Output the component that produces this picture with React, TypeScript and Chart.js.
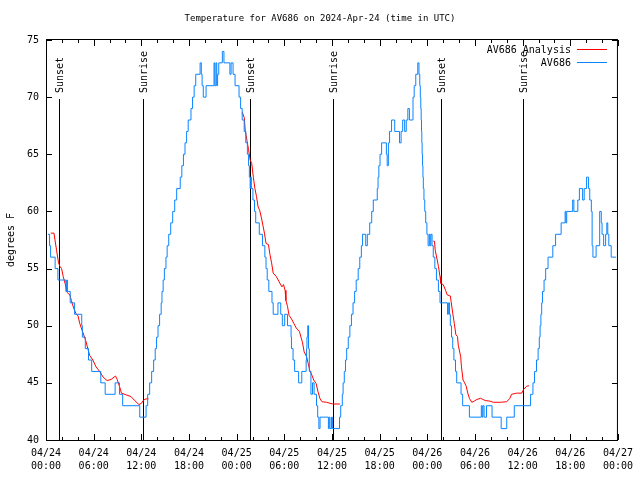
import React, { useEffect, useRef } from 'react';
import { Chart, registerables } from 'chart.js';

Chart.register(...registerables);

const FONT = "'DejaVu Sans Mono', 'Liberation Mono', monospace";

const chartTitle = 'Temperature for AV686 on 2024-Apr-24 (time in UTC)';
const yAxisTitle = 'degrees F';
const analysisName = 'AV686 Analysis';
const obsName = 'AV686';
const analysisColor = '#ff0000';
const obsColor = '#0a84ff';

// x axis: hours since 2024-04-24 00:00 UTC
const xTickHours = [0, 6, 12, 18, 24, 30, 36, 42, 48, 54, 60, 66, 72];
const xTickDates = ['04/24', '04/24', '04/24', '04/24', '04/25', '04/25', '04/25', '04/25', '04/26', '04/26', '04/26', '04/26', '04/27'];
const xTickTimes = ['00:00', '06:00', '12:00', '18:00', '00:00', '06:00', '12:00', '18:00', '00:00', '06:00', '12:00', '18:00', '00:00'];
const xMinorStep = 2;
const yTicks = [40, 45, 50, 55, 60, 65, 70, 75];

const sunEventHours = [1.67, 12.15, 25.68, 36.13, 49.69, 60.08];
const sunEventNames = ['Sunset', 'Sunrise', 'Sunset', 'Sunrise', 'Sunset', 'Sunrise'];

// Observed temperature (value holds until next change)
const obsHours = [
  0.25, 0.45, 0.58, 1.15, 1.5, 2.5, 2.6, 2.7, 3.05, 3.6, 4.5, 4.58, 4.95, 5.35, 5.75, 6.9, 7.45, 8.7, 9.25, 9.65,
  11.8, 12.6, 12.8, 13.05, 13.3, 13.55, 13.75, 13.92, 14.1, 14.3, 14.5, 14.6, 14.75, 14.9, 15.1, 15.25, 15.45, 15.7, 15.95, 16.2,
  16.45, 16.9, 17.1, 17.3, 17.5, 17.7, 17.9, 18.25, 18.45, 18.65, 18.85, 19.4, 19.55, 19.65, 19.8, 20.15, 21.15, 21.25, 21.4, 21.5,
  21.6, 21.75, 22.2, 22.4, 23.15, 23.3, 23.55, 23.8, 24.3, 24.5, 24.7, 24.95, 25.15, 25.35, 25.5, 25.6, 25.7, 25.75, 25.85, 26.05,
  26.25, 26.4, 26.85, 27.25, 27.55, 27.7, 27.85, 28.05, 28.45, 28.6, 29.2, 29.55, 29.75, 30.05, 30.4, 30.85, 30.9, 31.1, 31.3, 31.8,
  32.2, 32.75, 32.8, 32.85, 32.95, 33.05, 33.15, 33.35, 33.55, 33.75, 34.05, 34.2, 34.35, 34.5, 35.55, 35.65, 35.75, 35.95, 36.05, 36.95,
  37.1, 37.3, 37.4, 37.55, 37.7, 37.85, 38.05, 38.25, 38.45, 38.65, 38.85, 39.05, 39.3, 39.5, 39.7, 39.85, 40.25, 40.45, 40.75, 41.0,
  41.2, 41.7, 41.8, 41.9, 42.05, 42.25, 42.85, 42.95, 43.1, 43.25, 43.5, 43.9, 44.5, 44.7, 44.9, 45.15, 45.35, 45.55, 45.75, 46.2,
  46.35, 46.55, 46.8, 46.95, 47.05, 47.12, 47.18, 47.23, 47.27, 47.31, 47.35, 47.4, 47.45, 47.5, 47.58, 47.68, 47.8, 47.95, 48.1, 48.25,
  48.35, 48.45, 48.6, 48.75, 48.95, 49.15, 49.4, 49.6, 50.55, 50.65, 50.8, 50.9, 51.05, 51.2, 51.35, 51.55, 51.7, 52.25, 52.45, 53.3,
  54.8, 54.9, 55.0, 55.15, 55.45, 56.15, 57.3, 58.0, 58.95, 61.0, 61.3, 61.5, 61.75, 61.95, 62.1, 62.2, 62.3, 62.4, 62.5, 62.7,
  62.9, 63.2, 63.8, 64.15, 64.85, 65.35, 65.45, 65.55, 66.3, 66.45, 66.95, 67.15, 67.55, 67.75, 68.05, 68.3, 68.45, 68.65, 68.75, 68.85,
  69.25, 69.7, 69.9, 70.0, 70.2, 70.45, 70.6, 70.72, 70.85, 71.15, 71.75,
];
const obsTemps = [
  58, 57, 56, 55, 54, 53, 54, 53, 52, 51, 50, 49, 48, 47, 46, 45, 44, 45, 44, 43,
  42, 43, 44, 45, 46, 47, 48, 49, 50, 51, 52, 53, 54, 55, 56, 57, 58, 59, 60, 61,
  62, 63, 64, 65, 66, 67, 68, 69, 70, 71, 72, 73, 72, 71, 70, 71, 73, 71, 73, 71,
  72, 73, 74, 73, 72, 73, 72, 71, 70, 69, 68, 67, 66, 65, 64, 63, 62, 63, 62, 61,
  60, 59, 58, 57, 56, 55, 54, 53, 52, 51, 52, 51, 50, 51, 50, 49, 48, 47, 46, 45,
  46, 47, 48, 49, 50, 48, 46, 44, 45, 44, 43, 42, 41, 42, 41, 42, 41, 42, 41, 42,
  43, 44, 45, 46, 47, 48, 49, 50, 51, 52, 53, 54, 55, 56, 57, 58, 57, 58, 59, 60,
  61, 62, 63, 64, 65, 66, 65, 64, 66, 67, 68, 67, 66, 67, 68, 67, 68, 69, 68, 70,
  71, 72, 73, 72, 71, 70, 69, 68, 67, 66, 65, 64, 63, 62, 61, 60, 59, 58, 57, 58,
  57, 58, 57, 56, 55, 54, 53, 52, 51, 52, 51, 50, 49, 48, 47, 46, 45, 44, 43, 42,
  43, 42, 43, 42, 43, 42, 41, 42, 43, 44, 45, 46, 47, 48, 49, 50, 51, 52, 53, 54,
  55, 56, 57, 58, 59, 60, 59, 60, 61, 60, 61, 62, 61, 62, 63, 62, 61, 60, 57, 56,
  57, 60, 59, 58, 57, 58, 59, 58, 57, 56, 56,
];

// Analysis temperature, one run per night
const analysisHours1 = [0.6, 1.0, 1.33, 1.58, 1.75, 1.96, 2.17, 2.4, 2.67, 3.0, 3.2, 3.5, 3.75, 4.04, 4.25, 4.54, 4.8, 5.0, 5.3, 5.5, 5.9, 6.3, 6.75, 7.2, 7.7, 8.2, 8.75, 8.96, 9.25, 9.5, 10.1, 10.7, 11.1, 11.7, 12.0, 12.3, 12.6, 12.9];
const analysisTemps1 = [58.1, 58.1, 56.6, 55.5, 55.2, 55.0, 54.3, 53.7, 52.9, 52.7, 52.2, 51.5, 51.1, 50.85, 50.2, 49.6, 49.1, 48.7, 47.9, 47.4, 47.0, 46.4, 46.0, 45.5, 45.2, 45.3, 45.6, 45.3, 44.7, 44.1, 43.95, 43.8, 43.5, 43.1, 43.2, 43.5, 43.6, 43.6];
const analysisHours2 = [24.7, 24.96, 25.08, 25.3, 25.5, 25.7, 25.9, 26.1, 26.3, 26.5, 26.7, 26.9, 27.1, 27.3, 27.5, 27.7, 28.0, 28.2, 28.4, 28.6, 29.0, 29.3, 29.7, 29.9, 30.1, 30.2, 30.4, 30.6, 30.9, 31.2, 31.5, 31.9, 32.1, 32.3, 32.5, 32.8, 33.0, 33.2, 33.4, 33.7, 34.0, 34.25, 34.5, 34.75, 35.3, 36.1, 37.0];
const analysisTemps2 = [68.7, 68.2, 67.1, 66.2, 65.4, 64.5, 64.2, 63.0, 62.0, 61.3, 60.4, 60.1, 59.5, 58.8, 58.1, 57.2, 57.1, 56.2, 55.5, 54.6, 54.3, 53.9, 53.4, 53.6, 53.1, 52.2, 51.7, 50.9, 50.6, 50.2, 49.8, 49.5, 49.0, 48.5, 47.7, 47.3, 46.7, 46.1, 45.8, 45.25, 44.95, 44.2, 43.6, 43.35, 43.3, 43.15, 43.15];
const analysisHours3 = [48.75, 48.9, 49.0, 49.25, 49.4, 49.6, 49.7, 50.0, 50.3, 50.5, 50.9, 51.0, 51.2, 51.4, 51.6, 51.8, 51.9, 52.2, 52.3, 52.5, 52.7, 52.9, 53.1, 53.3, 53.6, 53.9, 54.25, 54.7, 55.0, 55.3, 55.9, 56.3, 57.2, 58.0, 58.4, 58.6, 59.25, 59.9, 60.1, 60.5, 60.8];
const analysisTemps3 = [57.4, 57.4, 56.6, 55.75, 55.2, 54.3, 53.7, 53.6, 53.1, 52.7, 52.6, 52.1, 51.1, 50.2, 49.2, 49.05, 48.3, 47.3, 46.4, 45.25, 45.0, 44.7, 44.1, 43.65, 43.3, 43.4, 43.55, 43.65, 43.55, 43.45, 43.4, 43.3, 43.3, 43.35, 43.65, 44.0, 44.1, 44.1, 44.4, 44.7, 44.75];

function buildAnalysis() {
  const runs = [
    [analysisHours1, analysisTemps1],
    [analysisHours2, analysisTemps2],
    [analysisHours3, analysisTemps3],
  ];
  const pts: { x: number; y: number | null }[] = [];
  runs.forEach(([hs, ts], r) => {
    if (r > 0) pts.push({ x: hs[0] - 0.01, y: null });
    hs.forEach((h, i) => pts.push({ x: h, y: ts[i] }));
  });
  return pts;
}

const decorPlugin = {
  id: 'gnuplotDecor',
  beforeDatasetsDraw(chart: any) {
    const { ctx, chartArea } = chart;
    const xs = chart.scales.x;
    ctx.save();
    ctx.strokeStyle = '#000';
    ctx.lineWidth = 1;
    ctx.fillStyle = '#000';
    ctx.font = `10px ${FONT}`;
    sunEventHours.forEach((h, i) => {
      const px = Math.round(xs.getPixelForValue(h)) + 0.5;
      ctx.beginPath();
      ctx.moveTo(px, chartArea.top + 59);
      ctx.lineTo(px, chartArea.bottom);
      ctx.stroke();
      ctx.save();
      ctx.translate(px + 1, chartArea.top + 53);
      ctx.rotate(-Math.PI / 2);
      ctx.textAlign = 'left';
      ctx.textBaseline = 'middle';
      ctx.fillText(sunEventNames[i], 0, 0);
      ctx.restore();
    });
    ctx.restore();
  },
  afterDatasetsDraw(chart: any) {
    const { ctx, chartArea } = chart;
    const xs = chart.scales.x;
    const ys = chart.scales.y;
    const { left, right, top, bottom } = chartArea;
    ctx.save();
    ctx.strokeStyle = '#000';
    ctx.lineWidth = 1;
    // frame
    ctx.strokeRect(left + 0.5, top - 0.5, right - 1 - left, bottom + 1 - top);
    // x ticks (inward, mirrored)
    ctx.beginPath();
    for (let h = xs.min; h <= xs.max; h += xMinorStep) {
      const px = Math.round(xs.getPixelForValue(h)) + 0.5;
      const len = xTickHours.includes(h) ? 6 : 3;
      ctx.moveTo(px, bottom);
      ctx.lineTo(px, bottom - len);
      ctx.moveTo(px, top);
      ctx.lineTo(px, top + len);
    }
    // y ticks
    yTicks.forEach((v) => {
      const py = Math.round(ys.getPixelForValue(v)) + 0.5;
      ctx.moveTo(left, py);
      ctx.lineTo(left + 6, py);
      ctx.moveTo(right, py);
      ctx.lineTo(right - 6, py);
    });
    ctx.stroke();

    // legend
    ctx.font = `10px ${FONT}`;
    ctx.fillStyle = '#000';
    ctx.textAlign = 'right';
    ctx.textBaseline = 'middle';
    const ds = chart.data.datasets;
    const order = [1, 0];
    order.forEach((di, row) => {
      const yy = top + 10 + row * 12.5;
      ctx.fillText(ds[di].label, right - 47, yy + 0.5);
      ctx.strokeStyle = ds[di].borderColor;
      ctx.beginPath();
      ctx.moveTo(right - 41, Math.round(yy) - 0.5);
      ctx.lineTo(right - 11, Math.round(yy) - 0.5);
      ctx.stroke();
    });

    // title
    ctx.font = `9px ${FONT}`;
    ctx.textAlign = 'center';
    ctx.fillText(chartTitle, chart.width / 2, 19);
    ctx.restore();
  },
};

export default function App() {
  const canvasRef = useRef<HTMLCanvasElement | null>(null);

  useEffect(() => {
    const canvas = canvasRef.current;
    if (!canvas) return;
    const obsData = obsHours.map((h, i) => ({ x: h, y: obsTemps[i] }));
    const chart = new Chart(canvas, {
      type: 'line',
      data: {
        datasets: [
          {
            label: obsName,
            data: obsData,
            borderColor: obsColor,
            borderWidth: 1,
            pointRadius: 0,
            stepped: true,
            fill: false,
            order: 0,
          },
          {
            label: analysisName,
            data: buildAnalysis(),
            borderColor: analysisColor,
            borderWidth: 1,
            pointRadius: 0,
            tension: 0,
            spanGaps: false,
            fill: false,
            order: 1,
          },
        ],
      },
      options: {
        responsive: false,
        animation: false,
        devicePixelRatio: 1,
        layout: { padding: { top: 40, right: 18, left: 0, bottom: 0 } },
        plugins: {
          legend: { display: false },
          title: { display: false },
          tooltip: { enabled: false },
        },
        scales: {
          x: {
            type: 'linear',
            min: 0,
            max: 72,
            afterFit: (s: any) => {
              s.height = 40;
            },
            ticks: {
              stepSize: 6,
              autoSkip: false,
              maxRotation: 0,
              padding: 7,
              color: '#000',
              font: { family: FONT, size: 10, lineHeight: 1.3 },
              callback: (v: any) => {
                const i = xTickHours.indexOf(Number(v));
                return i >= 0 ? [xTickDates[i], xTickTimes[i]] : '';
              },
            },
            grid: { display: false, drawTicks: false },
            border: { display: false },
          },
          y: {
            min: 40,
            max: 75,
            afterFit: (s: any) => {
              s.width = 46;
            },
            ticks: {
              stepSize: 5,
              padding: 7,
              color: '#000',
              font: { family: FONT, size: 10 },
            },
            title: {
              display: true,
              text: yAxisTitle,
              color: '#000',
              font: { family: FONT, size: 10 },
              padding: { top: 5, bottom: 0 },
            },
            grid: { display: false, drawTicks: false },
            border: { display: false },
          },
        },
      },
      plugins: [decorPlugin],
    });
    return () => chart.destroy();
  }, []);

  return (
    <div style={{ position: 'fixed', left: 0, top: 0, width: 640, height: 480, background: '#fff' }}>
      <canvas ref={canvasRef} width={640} height={480} />
    </div>
  );
}
